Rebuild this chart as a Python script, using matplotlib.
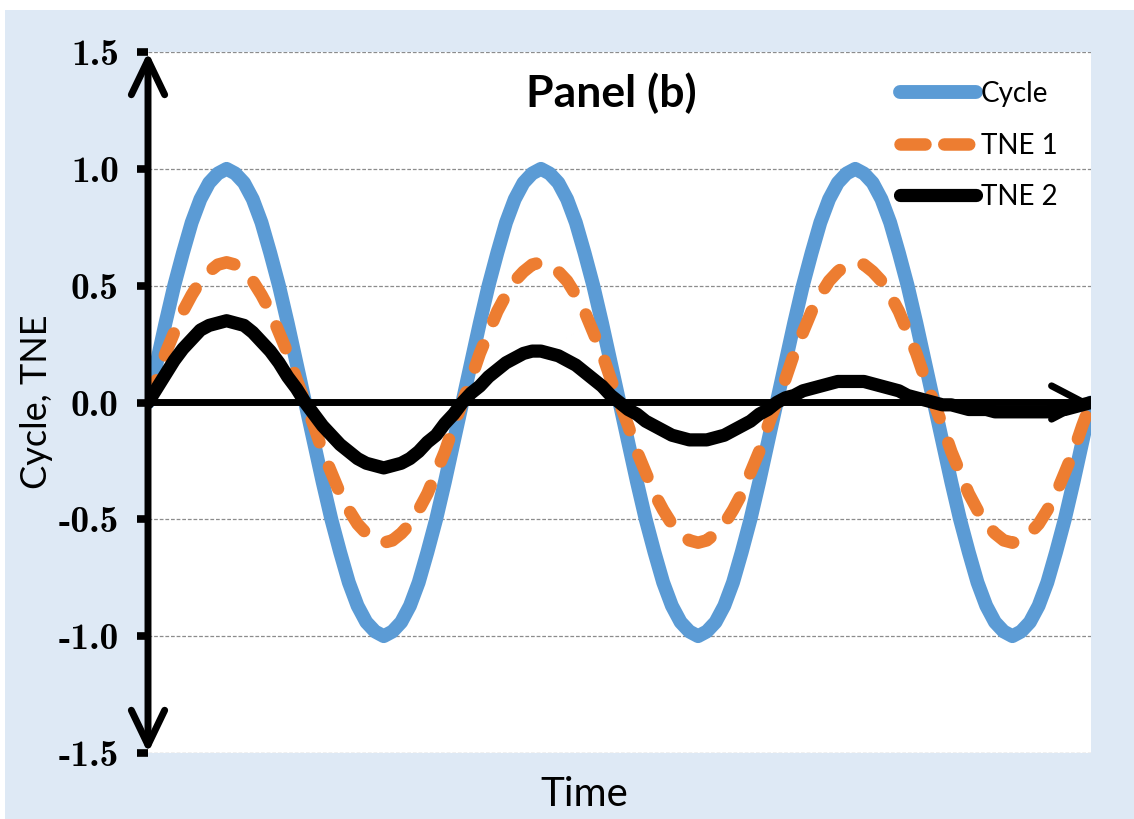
import matplotlib
matplotlib.use("Agg")
import matplotlib.pyplot as plt
import matplotlib.patches as mpatches
import matplotlib.lines as mlines
import numpy as np

# values, 36 samples per cycle, 3 cycles
cycle = [0.00, 0.17, 0.34, 0.50, 0.64, 0.77, 0.87, 0.94, 0.98, 1.00, 0.98, 0.94, 0.87, 0.77, 0.64, 0.50, 0.34, 0.17,
         0.00, -0.17, -0.34, -0.50, -0.64, -0.77, -0.87, -0.94, -0.98, -1.00, -0.98, -0.94, -0.87, -0.77, -0.64, -0.50, -0.34, -0.17,
         0.00, 0.17, 0.34, 0.50, 0.64, 0.77, 0.87, 0.94, 0.98, 1.00, 0.98, 0.94, 0.87, 0.77, 0.64, 0.50, 0.34, 0.17,
         0.00, -0.17, -0.34, -0.50, -0.64, -0.77, -0.87, -0.94, -0.98, -1.00, -0.98, -0.94, -0.87, -0.77, -0.64, -0.50, -0.34, -0.17,
         0.00, 0.17, 0.34, 0.50, 0.64, 0.77, 0.87, 0.94, 0.98, 1.00, 0.98, 0.94, 0.87, 0.77, 0.64, 0.50, 0.34, 0.17,
         0.00, -0.17, -0.34, -0.50, -0.64, -0.77, -0.87, -0.94, -0.98, -1.00, -0.98, -0.94, -0.87, -0.77, -0.64, -0.50, -0.34, -0.17,
         0.00]
tne1 = [0.00, 0.10, 0.21, 0.30, 0.39, 0.46, 0.52, 0.56, 0.59, 0.60, 0.59, 0.56, 0.52, 0.46, 0.39, 0.30, 0.21, 0.10,
        0.00, -0.10, -0.21, -0.30, -0.39, -0.46, -0.52, -0.56, -0.59, -0.60, -0.59, -0.56, -0.52, -0.46, -0.39, -0.30, -0.21, -0.10,
        0.00, 0.10, 0.21, 0.30, 0.39, 0.46, 0.52, 0.56, 0.59, 0.60, 0.59, 0.56, 0.52, 0.46, 0.39, 0.30, 0.21, 0.10,
        0.00, -0.10, -0.21, -0.30, -0.39, -0.46, -0.52, -0.56, -0.59, -0.60, -0.59, -0.56, -0.52, -0.46, -0.39, -0.30, -0.21, -0.10,
        0.00, 0.10, 0.21, 0.30, 0.39, 0.46, 0.52, 0.56, 0.59, 0.60, 0.59, 0.56, 0.52, 0.46, 0.39, 0.30, 0.21, 0.10,
        0.00, -0.10, -0.21, -0.30, -0.39, -0.46, -0.52, -0.56, -0.59, -0.60, -0.59, -0.56, -0.52, -0.46, -0.39, -0.30, -0.21, -0.10,
        0.00]
tne2 = [0.00, 0.06, 0.12, 0.18, 0.23, 0.27, 0.31, 0.33, 0.34, 0.35, 0.34, 0.33, 0.30, 0.26, 0.22, 0.17, 0.11, 0.06,
        0.00, -0.05, -0.10, -0.14, -0.18, -0.21, -0.24, -0.26, -0.27, -0.28, -0.27, -0.26, -0.24, -0.21, -0.17, -0.14, -0.09, -0.05,
        0.00, 0.04, 0.07, 0.11, 0.14, 0.17, 0.19, 0.21, 0.22, 0.22, 0.21, 0.20, 0.18, 0.16, 0.13, 0.10, 0.07, 0.03,
        0.00, -0.03, -0.05, -0.08, -0.10, -0.12, -0.14, -0.15, -0.16, -0.16, -0.16, -0.15, -0.14, -0.12, -0.10, -0.08, -0.05, -0.03,
        0.00, 0.02, 0.03, 0.05, 0.06, 0.07, 0.08, 0.09, 0.09, 0.09, 0.09, 0.08, 0.07, 0.06, 0.05, 0.03, 0.02, 0.01,
        0.00, -0.01, -0.01, -0.02, -0.03, -0.03, -0.03, -0.04, -0.04, -0.04, -0.04, -0.04, -0.04, -0.04, -0.03, -0.03, -0.02, -0.01,
        0.00]
time = np.arange(len(cycle))

yticks = [-1.5, -1.0, -0.5, 0.0, 0.5, 1.0, 1.5]
ytick_labels = ["-1.5", "-1.0", "-0.5", "0.0", "0.5", "1.0", "1.5"]
labels = ["Cycle", "TNE 1", "TNE 2"]
colors = ["#5b9bd5", "#ed7d31", "black"]

sans = "Lato"
W, H = 1134, 819

fig = plt.figure(figsize=(W / 100, H / 100), dpi=100)
fig.patch.set_facecolor("white")
fig.patches.append(mpatches.Rectangle((5 / W, 0), 1, (H - 10) / H, transform=fig.transFigure,
                                      facecolor="#dee9f5", edgecolor="none", zorder=-10))

ax = fig.add_axes([148 / W, (H - 753) / H, (1091 - 148) / W, (753 - 52) / H])
ax.set_facecolor("white")

ax.plot(time, cycle, color=colors[0], lw=10, solid_capstyle="round", solid_joinstyle="round", zorder=2)
ax.plot(time, tne1, color=colors[1], lw=9, linestyle=(0, (1.9, 2.1)),
        dash_capstyle="round", dash_joinstyle="round", zorder=3)
ax.plot(time, tne2, color=colors[2], lw=9.5, solid_capstyle="round", solid_joinstyle="round", zorder=6)

ax.set_xlim(0, len(cycle) - 1)
ax.set_ylim(-1.5, 1.5)
for s in ax.spines.values():
    s.set_visible(False)
ax.set_xticks([])
ax.set_yticks(yticks)
ax.set_yticklabels(ytick_labels)
for t in ax.get_yticklabels():
    t.set_fontfamily("cmb10")
    t.set_fontsize(27)
ax.tick_params(axis="y", direction="out", length=8, width=5.5, pad=13, color="black")
ax.yaxis.grid(True, color="#8c8c8c", linestyle=(0, (3, 1.5)), linewidth=0.9)
ax.set_axisbelow(True)

# axis arrows
ax.annotate("", xy=(0, 1.5), xytext=(0, -1.5), xycoords="data",
            arrowprops=dict(arrowstyle="<->, head_length=1.25, head_width=0.6", lw=5,
                            color="black", shrinkA=0, shrinkB=0, mutation_scale=20),
            annotation_clip=False, zorder=5)
ax.annotate("", xy=(len(cycle) - 1, 0), xytext=(0, 0), xycoords="data",
            arrowprops=dict(arrowstyle="->, head_length=1.15, head_width=0.6", lw=5,
                            color="black", shrinkA=0, shrinkB=0, mutation_scale=20),
            annotation_clip=False, zorder=5)

ax.text(0.491, 0.9415, "Panel (b)", transform=ax.transAxes, ha="center", va="center",
        fontsize=32, fontweight="bold", family=sans)

h1 = mlines.Line2D([], [], color=colors[0], lw=10, solid_capstyle="round")
h2 = mlines.Line2D([], [], color=colors[1], lw=9, linestyle=(0, (2.0, 1.5)),
                   dash_capstyle="round")
h3 = mlines.Line2D([], [], color=colors[2], lw=9.5, solid_capstyle="round")
leg = ax.legend(handles=[h1, h2, h3], labels=labels, loc="upper left",
                bbox_to_anchor=(900 / W, (H - 81) / H), bbox_transform=fig.transFigure,
                frameon=False, borderpad=0, borderaxespad=0, handlelength=2.75,
                handletextpad=0.15, labelspacing=0.92, prop={"family": sans, "size": 20})

fig.text(37 / W, (H - 402) / H, "Cycle, TNE", rotation=90, ha="center", va="center",
         fontsize=26, family=sans)
fig.text(584 / W, (H - 795) / H, "Time", ha="center", va="center", fontsize=29, family=sans)

fig.savefig("out.png", dpi=100, facecolor=fig.get_facecolor())
